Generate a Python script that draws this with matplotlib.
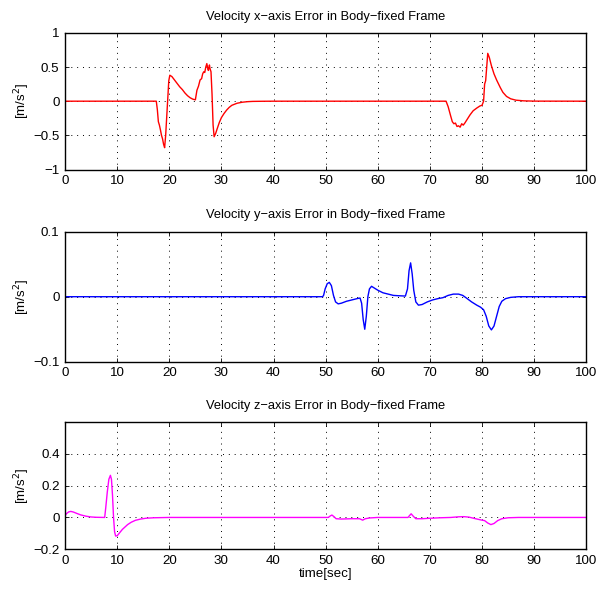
import numpy as np
from matplotlib import pyplot as plt

plt.rcParams['font.family'] = ['Liberation Sans', 'DejaVu Sans']
plt.rcParams['font.size'] = 9.6
plt.rcParams['axes.unicode_minus'] = True

# --- velocity x error (body frame) ---
tx = [0, 17.5, 17.7, 17.9, 18.1, 18.3, 18.5, 18.7, 18.9, 19.1, 19.3, 19.6, 19.9, 20.1,
      20.5, 21, 21.5, 22, 22.5, 23, 23.5, 24, 24.5, 25, 25.3, 25.6, 25.9, 26.2, 26.4,
      26.6, 26.8, 27.0, 27.2, 27.4, 27.5, 27.7, 27.8, 28.0, 28.2, 28.4, 28.6, 28.9,
      29.2, 29.6, 30, 30.5, 31, 31.5, 32, 33, 34, 35, 36, 38, 40, 73.1, 73.5, 74.0,
      74.3, 74.6, 74.9, 75.2, 75.5, 75.8, 76.1, 76.4, 76.7, 77.2, 77.7, 78.3, 79,
      79.6, 80.0, 80.3, 80.5, 80.7, 80.9, 81.1, 81.4, 81.8, 82.3, 82.8, 83.5, 84,
      84.7, 85.5, 86.5, 88, 90, 100]
vx = [0, 0, -0.12, -0.3, -0.35, -0.42, -0.5, -0.55, -0.63, -0.68, -0.5, -0.1, 0.3, 0.38,
      0.36, 0.31, 0.26, 0.21, 0.17, 0.12, 0.08, 0.05, 0.03, 0.02, 0.16, 0.22, 0.31, 0.33,
      0.4, 0.43, 0.42, 0.5, 0.55, 0.47, 0.45, 0.53, 0.48, 0.43, 0.1, -0.35, -0.52, -0.47,
      -0.4, -0.31, -0.24, -0.18, -0.13, -0.09, -0.06, -0.03, -0.015, -0.007, -0.003,
      -0.001, 0, 0, -0.08, -0.22, -0.3, -0.33, -0.32, -0.37, -0.36, -0.38, -0.33,
      -0.35, -0.32, -0.26, -0.2, -0.14, -0.1, -0.07, -0.06, 0.0, 0.25, 0.3, 0.5, 0.70,
      0.64, 0.52, 0.4, 0.31, 0.2, 0.13, 0.07, 0.035, 0.015, 0.005, 0.001, 0]

# --- velocity y error ---
ty = [0, 49.4, 49.6, 49.9, 50.3, 50.7, 51.1, 51.5, 51.9, 52.4, 53, 54, 55, 56, 56.6,
      56.9, 57.2, 57.5, 57.8, 58.1, 58.4, 58.8, 59.4, 60, 61, 62, 63, 64, 65.3, 65.7,
      66.0, 66.3, 66.6, 66.9, 67.3, 67.8, 68.5, 69.5, 70.5, 71.5, 72.5, 73.5, 74.5,
      75.5, 76.3, 77, 78, 79, 79.7, 80.3, 80.8, 81.3, 81.8, 82.3, 82.8, 83.3, 83.8,
      84.5, 85.5, 87, 100]
vy = [0, 0, 0.002, 0.012, 0.02, 0.022, 0.017, 0.002, -0.008, -0.011, -0.01, -0.007,
      -0.005, -0.003, -0.002, -0.01, -0.035, -0.05, -0.03, 0.0, 0.012, 0.016, 0.013,
      0.01, 0.006, 0.004, 0.002, 0.0015, 0.001, 0.012, 0.04, 0.052, 0.035, 0.01, -0.008,
      -0.013, -0.012, -0.008, -0.005, -0.003, -0.0015, 0.002, 0.004, 0.004, 0.002,
      -0.002, -0.008, -0.013, -0.016, -0.02, -0.03, -0.045, -0.051, -0.045, -0.03,
      -0.015, -0.007, -0.003, -0.001, 0, 0]

# --- velocity z error ---
tz = [0, 0.3, 0.7, 1.1, 1.6, 2.2, 3, 4, 5, 6, 7.6, 7.8, 8.1, 8.4, 8.7, 8.9, 9.1, 9.3,
      9.5, 9.7, 10, 10.5, 11, 11.5, 12, 12.7, 13.5, 14.5, 15.5, 17, 20, 50.5, 50.9,
      51.2, 51.6, 52, 53, 55, 56.5, 57.1, 57.6, 58.5, 60, 65.8, 66.1, 66.4, 66.8, 67.3,
      68.5, 70, 72, 74, 75.5, 76.5, 77.5, 78.5, 79.7, 80.5, 81.1, 81.7, 82.3, 83, 83.8,
      85, 87, 100]
vz = [0.012, 0.025, 0.035, 0.038, 0.034, 0.026, 0.016, 0.008, 0.003, 0.001, 0.0, 0.06,
      0.16, 0.24, 0.265, 0.24, 0.14, 0.0, -0.09, -0.117, -0.115, -0.095, -0.075, -0.06,
      -0.045, -0.03, -0.018, -0.01, -0.005, -0.002, 0, 0, 0.01, 0.015, 0.005, -0.008,
      -0.01, -0.008, -0.008, -0.017, -0.008, -0.003, 0, 0, 0.012, 0.023, 0.008, -0.008,
      -0.008, -0.005, -0.002, 0.0, 0.004, 0.005, 0.002, -0.006, -0.015, -0.02, -0.035,
      -0.045, -0.038, -0.02, -0.008, -0.002, 0, 0]

xticks = np.arange(0, 101, 10)

panels = [
    (tx, vx, '#ff0000', 'Velocity x\u2212axis Error in Body\u2212fixed Frame',
     (-1, 1), [-1, -0.5, 0, 0.5, 1], ['\u22121', '\u22120.5', '0', '0.5', '1'],
     [0.109, 0.716, 0.873, 0.229]),
    (ty, vy, '#0000ff', 'Velocity y\u2212axis Error in Body\u2212fixed Frame',
     (-0.1, 0.1), [-0.1, 0, 0.1], ['\u22120.1', '0', '0.1'],
     [0.109, 0.394, 0.873, 0.218]),
    (tz, vz, '#ff00ff', 'Velocity z\u2212axis Error in Body\u2212fixed Frame',
     (-0.2, 0.6), [-0.2, 0, 0.2, 0.4], ['\u22120.2', '0', '0.2', '0.4'],
     [0.109, 0.080, 0.873, 0.213]),
]

fig = plt.figure(figsize=(5.97, 5.97), dpi=100)

for i, (t, v, c, title, ylim, yt, ytl, pos) in enumerate(panels):
    ax = fig.add_axes(pos)
    ax.plot(t, v, color=c, linewidth=1.0)
    ax.set_xlim(0, 100)
    ax.set_ylim(*ylim)
    ax.set_xticks(xticks)
    ax.set_yticks(yt)
    ax.set_yticklabels(ytl)
    ax.grid(True, ls=(0, (1, 5)), color='black', linewidth=0.7)
    ax.tick_params(direction='in', top=True, right=True, length=3, width=0.6, pad=4)
    for sp in ax.spines.values():
        sp.set_linewidth(1.0)
    ax.set_title(title, fontsize=9.3, pad=9.5)
    ax.set_ylabel('[m/s$^2$]')
    ax.yaxis.set_label_coords(-0.063, 0.5)
    if i == 2:
        ax.set_xlabel('time[sec]', labelpad=1)

plt.savefig('out.png', dpi=100)
